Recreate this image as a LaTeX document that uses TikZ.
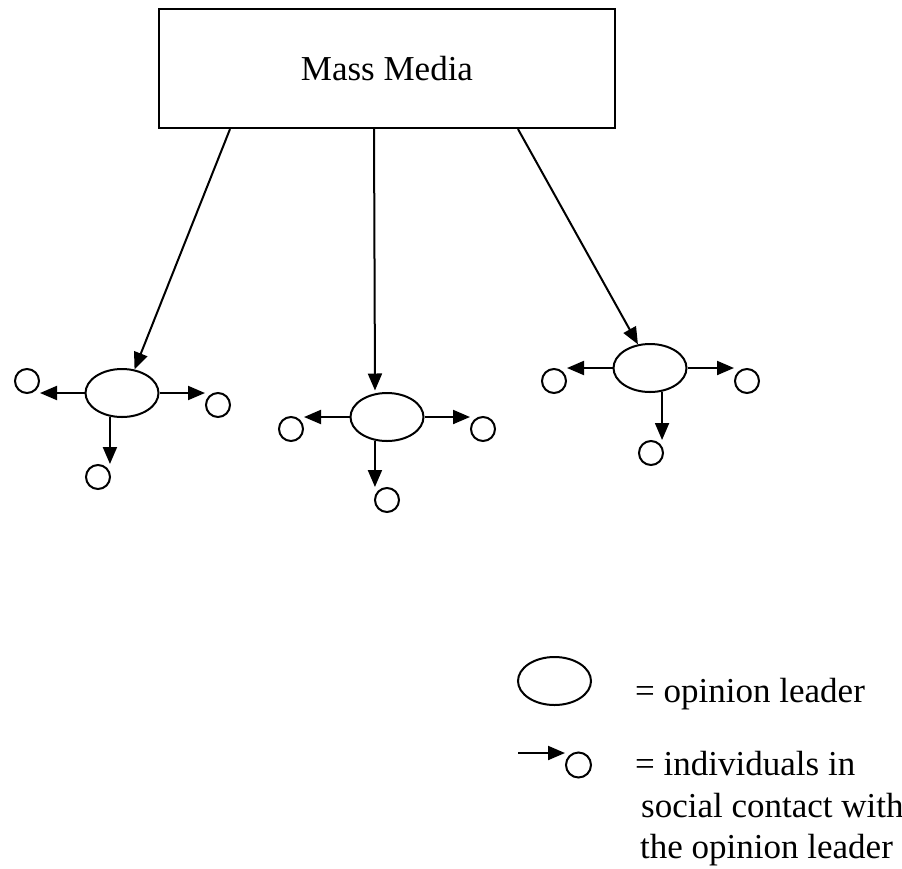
\documentclass[tikz,border=0pt]{standalone}
\usepackage{fontspec}
\setmainfont{Liberation Serif}
\usetikzlibrary{shapes.geometric,arrows.meta}
\tikzset{
  line/.style={line width=2pt},
  arr/.style={line, -{Triangle[length=17pt,width=14pt]}},
  leader/.style={ellipse, draw, line width=2pt, minimum width=73pt, minimum height=48pt, inner sep=0pt},
  person/.style={circle, draw, line width=2pt, minimum size=24pt, inner sep=0pt},
  media/.style={draw, line width=2.2pt, minimum width=456pt, minimum height=119pt, inner sep=0pt, font=\fontsize{35}{42}\selectfont},
  legtext/.style={anchor=base west, inner sep=0pt, font=\fontsize{35}{42}\selectfont}
}
\begin{document}
\begin{tikzpicture}[x=1pt,y=-1pt]
\useasboundingbox (0,0) rectangle (902,868);
\node[media] (mm) at (387,68.5) {Mass Media};

% left group
\node[leader] (L) at (122,393) {};
\node[person] (L1) at (27,381) {};
\node[person] (L2) at (218,405) {};
\node[person] (L3) at (98,477) {};
% middle group
\node[leader] (M) at (387,417) {};
\node[person] (M1) at (291,429) {};
\node[person] (M2) at (483,429) {};
\node[person] (M3) at (387,500) {};
% right group
\node[leader] (R) at (650,368) {};
\node[person] (R1) at (554,381) {};
\node[person] (R2) at (747,381) {};
\node[person] (R3) at (651,453) {};

% media arrows
\draw[arr] ([xshift=-157pt]mm.south) -- (L.62);
\draw[arr] ([xshift=-13pt]mm.south) -- ([xshift=-12pt,yshift=1.5pt]M.north);
\draw[arr] ([xshift=131pt]mm.south) -- (R.117);

% contacts
\draw[arr] (L.west) -- (L.west -| L1.east);
\draw[arr] (L.east) -- (L.east -| L2.west);
\draw[arr] (L.243) -- (L.243 |- L3.north);
\draw[arr] (M.west) -- (M.west -| M1.east);
\draw[arr] (M.east) -- (M.east -| M2.west);
\draw[arr] (M.243) -- (M.243 |- M3.north);
\draw[arr] (R.west) -- (R.west -| R1.east);
\draw[arr] (R.east) -- (R.east -| R2.west);
\draw[arr] (R.297) -- (R.297 |- R3.north);

% legend
\node[leader] (K) at (554.5,681) {};
\node[legtext] (KT) at (635,702) {= opinion leader};
\node[person, minimum size=25pt] (KC) at (578.5,765) {};
\coordinate (KA) at (518,753);
\draw[arr] (KA) -- (KA -| KC.west);
\node[legtext] (KT2) at (635,775) {= individuals in};
\node[legtext] (KT3) at (641,817) {social contact with};
\node[legtext] (KT4) at (640,858) {the opinion leader};
\end{tikzpicture}
\end{document}
